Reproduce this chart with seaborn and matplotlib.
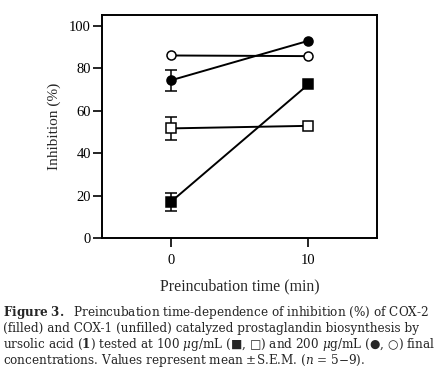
import matplotlib
matplotlib.use("Agg")
import matplotlib.pyplot as plt
import seaborn as sns
import pandas as pd

# data
times = [0, 10]
cox2_100 = [17.0, 72.3]     # filled square
cox1_100 = [51.6, 52.8]     # open square
cox2_200 = [74.2, 92.8]     # filled circle
cox1_200 = [85.9, 85.6]     # open circle
sem_cox2_100 = [4.3, 0]
sem_cox1_100 = [5.3, 0]
sem_cox2_200 = [4.8, 0]

sns.set_style("ticks")
plt.rcParams["font.family"] = ["Liberation Serif", "DejaVu Sans"]
plt.rcParams["mathtext.fontset"] = "dejavuserif"

fig = plt.figure(figsize=(4.36, 3.72), dpi=100)
ax = fig.add_axes([0.234, 0.360, 0.631, 0.600])

series = [
    (cox2_100, sem_cox2_100, "s", "black"),
    (cox1_100, sem_cox1_100, "s", "white"),
    (cox2_200, sem_cox2_200, "o", "black"),
    (cox1_200, None, "o", "white"),
]
for vals, sem, mk, fc in series:
    df = pd.DataFrame({"time": times, "inh": vals})
    sns.lineplot(data=df, x="time", y="inh", ax=ax, color="black", lw=1.4,
                 marker=mk, markersize=6.5, markerfacecolor=fc,
                 markeredgecolor="black", markeredgewidth=1.1, zorder=3)
    if sem is not None:
        ax.errorbar(times[:1], vals[:1], yerr=sem[:1], fmt="none",
                    ecolor="black", elinewidth=1.1, capsize=4, capthick=1.1,
                    zorder=2)

ax.set_xlim(-5, 15)
ax.set_ylim(0, 105)
ax.set_xticks([0, 10])
ax.set_yticks([0, 20, 40, 60, 80, 100])
ax.tick_params(direction="out", length=6.5, width=1.2, labelsize=10.5,
               colors="black")
ax.tick_params(axis="y", pad=1.5)
ax.tick_params(axis="x", pad=5)
for s in ax.spines.values():
    s.set_linewidth(1.4)
    s.set_color("black")
ax.set_xlabel("Preincubation time (min)", fontsize=11.4, labelpad=8)
ax.set_ylabel("Inhibition (%)", fontsize=11, labelpad=6)

caption = [
    r"$\mathbf{Figure\ 3.}$  Preincubation time-dependence of inhibition (%) of COX-2",
    "(filled) and COX-1 (unfilled) catalyzed prostaglandin biosynthesis by",
    r"ursolic acid ($\mathbf{1}$) tested at 100 $\mathit{\mu}$g/mL (■, □) and 200 $\mathit{\mu}$g/mL (●, ○) final",
    r"concentrations. Values represent mean ±S.E.M. ($\mathit{n}$ = 5−9).",
]
ys = [316, 332, 348, 364]
for line, y in zip(caption, ys):
    fig.text(3 / 436, 1 - y / 372, line, fontsize=8.65, va="baseline", ha="left",
             family=["DejaVu Serif", "DejaVu Sans"])

fig.savefig("out.png", dpi=100)
